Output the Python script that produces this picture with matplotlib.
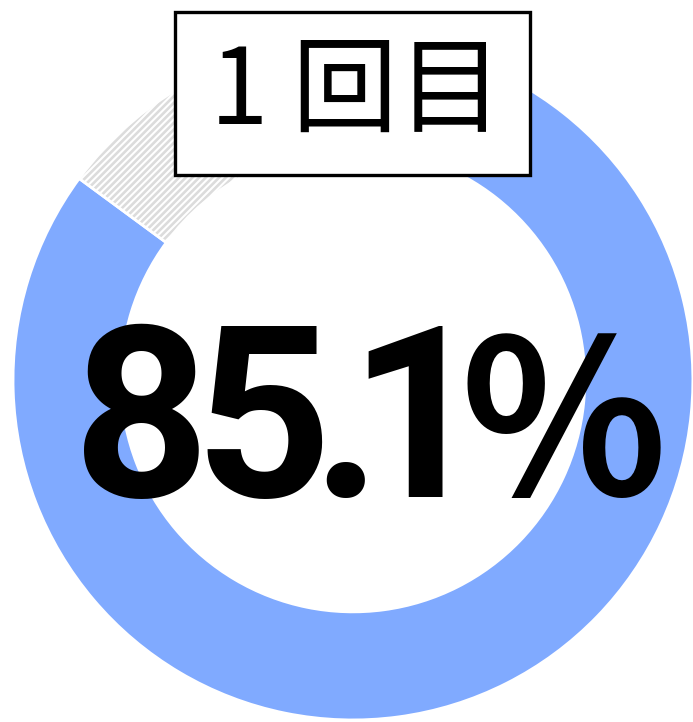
import matplotlib.pyplot as plt
from matplotlib.patches import Rectangle

plt.rcParams['hatch.linewidth'] = 1.5

labels = ['1回目', 'その他']
values = [85.1, 14.9]
title_text = '1 回目'
number_text = '85.1'
percent_text = '％'

fig = plt.figure(figsize=(6.93, 7.22), dpi=100)
ax = fig.add_axes([0, 0, 1, 1])

wedges, _ = ax.pie(values, startangle=90, counterclock=False, radius=1,
                   colors=['#80aaff', '#dcdcdc'],
                   wedgeprops=dict(width=0.318, edgecolor='white', linewidth=2))
wedges[1].set_hatch('/////')

ax.set_xlim(-1.038, 1.0)
ax.set_ylim(-1.006, 1.118)
ax.set_aspect('equal')
ax.axis('off')

ax.add_patch(Rectangle((-0.524, 0.603), 1.045, 0.479, facecolor='white',
                       edgecolor='black', linewidth=2.4, zorder=5))
ax.text(0.01, 0.843, title_text, ha='center', va='center', fontsize=76,
        family=['Noto Sans CJK JP', 'DejaVu Sans'], zorder=6)

# 数字は一文字ずつ詰めて配置（中心位置, データ座標）
char_x = [-0.621, -0.265, -0.021, 0.188]
for ch, x in zip(number_text, char_x):
    ax.text(x, -0.345, ch, ha='center', va='baseline', fontsize=172,
            fontweight='bold', family='Roboto', zorder=6)
ax.text(0.62, -0.345, percent_text, ha='center', va='baseline', fontsize=154,
        fontweight='bold', family=['Noto Sans CJK JP', 'DejaVu Sans'], zorder=6)

fig.savefig('out.png', dpi=100)
